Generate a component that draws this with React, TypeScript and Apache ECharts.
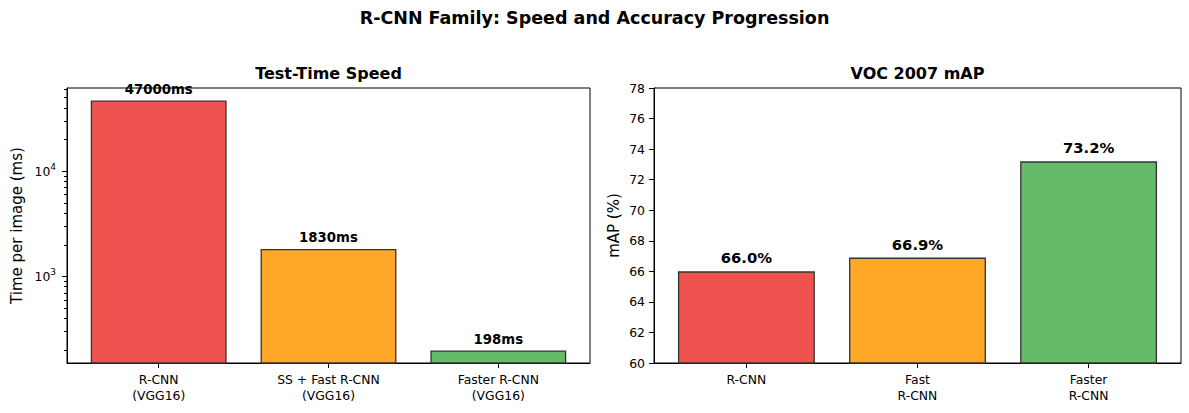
import React, { useEffect, useRef } from "react";
import * as echarts from "echarts";

const speedCategories = ["R-CNN\n(VGG16)", "SS + Fast R-CNN\n(VGG16)", "Faster R-CNN\n(VGG16)"];
const speedValues = [47000, 1830, 198];
const mapCategories = ["R-CNN", "Fast\nR-CNN", "Faster\nR-CNN"];
const mapValues = [66.0, 66.9, 73.2];
const barColors = ["#EF5350", "#FFA726", "#66BB6A"];
const logMajorTicks = [1000, 10000];
const logMinorTicks = [200, 300, 400, 500, 600, 700, 800, 900, 2000, 3000, 4000, 5000, 6000, 7000, 8000, 9000, 20000, 30000, 40000, 50000, 60000];
const mapTicks = [60, 62, 64, 66, 68, 70, 72, 74, 76, 78];

const FONT = "DejaVu Sans";

export default function App() {
  const ref = useRef<HTMLDivElement>(null);
  useEffect(() => {
    if (!ref.current) return;
    const chart = echarts.init(ref.current, undefined, { renderer: "svg" });
    const xMin = -0.54, xMax = 2.54;
    const leftW = 523, rightW = 527;
    const xIdx = [0, 1, 2];
    const xAxisBase = (cats: string[], grid: number) => ({
      type: "value" as const,
      gridIndex: grid,
      min: xMin,
      max: xMax,
      splitLine: { show: false },
      axisLine: { show: true, onZero: false, lineStyle: { color: "#000", width: 1 } },
      axisTick: { show: true, customValues: xIdx, length: 5, lineStyle: { color: "#000" } },
      axisLabel: {
        customValues: xIdx,
        formatter: (v: number) => cats[Math.round(v)] ?? "",
        color: "#000",
        fontFamily: FONT,
        fontSize: 12.4,
        lineHeight: 16,
        margin: 8,
      },
    });
    const option: any = {
      animation: false,
      backgroundColor: "#fff",
      title: [
        { text: "R-CNN Family: Speed and Accuracy Progression", left: 594.5, textAlign: "center", top: 9, padding: 0,
          textStyle: { fontFamily: FONT, fontSize: 17.5, fontWeight: "bold", color: "#000" } },
        { text: "Test-Time Speed", left: 328.5, textAlign: "center", top: 65, padding: 0,
          textStyle: { fontFamily: FONT, fontSize: 16, fontWeight: "bold", color: "#000" } },
        { text: "VOC 2007 mAP", left: 917.5, textAlign: "center", top: 65, padding: 0,
          textStyle: { fontFamily: FONT, fontSize: 16, fontWeight: "bold", color: "#000" } },
      ],
      grid: [
        { left: 67, right: 599, top: 88, bottom: 50, show: true, borderColor: "#000", borderWidth: 1, backgroundColor: "transparent" },
        { left: 654, right: 8, top: 88, bottom: 50, show: true, borderColor: "#000", borderWidth: 1, backgroundColor: "transparent" },
      ],
      xAxis: [xAxisBase(speedCategories, 0), xAxisBase(mapCategories, 1)],
      yAxis: [
        {
          type: "log", gridIndex: 0, position: "left", min: 150.7, max: 61800, logBase: 10,
          name: "Time per image (ms)", nameLocation: "middle", nameGap: 42.5,
          nameTextStyle: { fontFamily: FONT, fontSize: 15, color: "#000" },
          splitLine: { show: false },
          axisLine: { show: true, onZero: false, lineStyle: { color: "#000", width: 1 } },
          axisTick: { show: true, customValues: logMajorTicks, length: 5, lineStyle: { color: "#000" } },
          axisLabel: {
            customValues: logMajorTicks,
            formatter: (v: number) => `{b|10}{s|${Math.round(Math.log10(v))}}`,
            color: "#000", fontFamily: FONT, margin: 11,
            rich: {
              b: { fontFamily: FONT, fontSize: 12.4, lineHeight: 18, color: "#000" },
              s: { fontFamily: FONT, fontSize: 9, lineHeight: 11, verticalAlign: "top", color: "#000" },
            },
          },
        },
        {
          type: "log", gridIndex: 0, position: "left", min: 150.7, max: 61800, logBase: 10,
          splitLine: { show: false },
          axisLine: { show: false, onZero: false },
          axisTick: { show: true, customValues: logMinorTicks, length: 3, lineStyle: { color: "#000" } },
          axisLabel: { show: false },
        },
        {
          type: "value", gridIndex: 1, position: "left", min: 60, max: 78, interval: 2,
          name: "mAP (%)", nameLocation: "middle", nameGap: 32.5,
          nameTextStyle: { fontFamily: FONT, fontSize: 15, color: "#000" },
          splitLine: { show: false },
          axisLine: { show: true, onZero: false, lineStyle: { color: "#000", width: 1 } },
          axisTick: { show: true, customValues: mapTicks, length: 5, lineStyle: { color: "#000" } },
          axisLabel: { customValues: mapTicks, color: "#000", fontFamily: FONT, fontSize: 12.4, margin: 9 },
        },
      ],
      series: [
        {
          type: "bar", xAxisIndex: 0, yAxisIndex: 0, clip: true,
          barWidth: (0.8 * leftW) / (xMax - xMin),
          data: speedValues.map((v, i) => ({ value: [i, v], itemStyle: { color: barColors[i] } })),
          itemStyle: { borderColor: "#333", borderWidth: 1.3 },
          label: {
            show: true, position: "top", distance: 5,
            formatter: (p: any) => `${p.value[1]}ms`,
            fontFamily: FONT, fontSize: 13.3, fontWeight: "bold", color: "#000",
          },
          z: 5,
        },
        {
          type: "bar", xAxisIndex: 1, yAxisIndex: 2, clip: true,
          barWidth: (0.8 * rightW) / (xMax - xMin),
          data: mapValues.map((v, i) => ({ value: [i, v], itemStyle: { color: barColors[i] } })),
          itemStyle: { borderColor: "#333", borderWidth: 1.3 },
          label: {
            show: true, position: "top", distance: 6,
            formatter: (p: any) => `${p.value[1].toFixed(1)}%`,
            fontFamily: FONT, fontSize: 14.8, fontWeight: "bold", color: "#000",
          },
          z: 5,
        },
      ],
    };
    chart.setOption(option);
    return () => chart.dispose();
  }, []);
  return <div ref={ref} style={{ position: "fixed", left: 0, top: 0, width: 1189, height: 413, background: "#fff" }} />;
}
